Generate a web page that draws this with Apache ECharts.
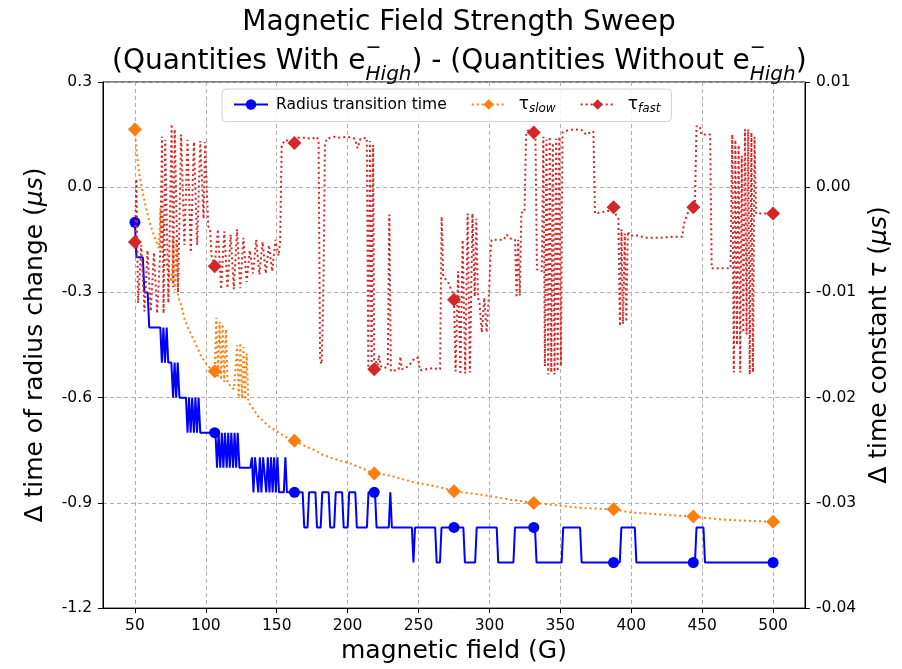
<!DOCTYPE html>
<html><head><meta charset="utf-8">
<script src="https://cdn.jsdelivr.net/npm/echarts@6/dist/echarts.min.js"></script>
<style>html,body{margin:0;padding:0;background:#fff}#c{width:902px;height:669px}</style>
</head><body><div id="c"></div>
<script>
const xTicks = [50,100,150,200,250,300,350,400,450,500];
const markerX = [50,106.25,162.5,218.75,275,331.25,387.5,443.75,500];
const radiusMarkerY = [-0.1,-0.7,-0.87,-0.87,-0.97,-0.97,-1.07,-1.07,-1.07];
const slowMarkerY = [0.0055,-0.0175,-0.0241,-0.0272,-0.0289,-0.0300,-0.0306,-0.0313,-0.0318];
const fastMarkerY = [-0.0052,-0.0075,0.0042,-0.0173,-0.0107,0.0052,-0.0019,-0.0019,-0.0025];

const radiusLine = [
[50,-0.1],[51.1,-0.2],[55.6,-0.2],[56.7,-0.3],[59,-0.3],[60.1,-0.4],[67.9,-0.4],
[69,-0.5],[70.1,-0.4],[71.2,-0.5],[72.4,-0.4],[73.5,-0.5],[75.7,-0.5],
[76.9,-0.6],[78,-0.5],[79.1,-0.6],[80.2,-0.5],[81.4,-0.6],[86,-0.6],
[87.1,-0.7],[88.2,-0.6],[89.3,-0.7],[90.4,-0.6],[91.6,-0.7],[92.7,-0.6],[93.8,-0.7],[94.9,-0.6],[96.1,-0.7],[106.8,-0.7],
[107.9,-0.8],[109,-0.7],[110.2,-0.8],[111.3,-0.7],[112.4,-0.8],[113.5,-0.7],[114.7,-0.8],[115.8,-0.7],[116.9,-0.8],[118,-0.7],[119.2,-0.8],[120.3,-0.7],[121.4,-0.8],[122.5,-0.7],[123.7,-0.8],[131.4,-0.8],
[132.5,-0.77],[133.6,-0.87],[134.7,-0.77],[135.9,-0.77],[137,-0.87],[138.1,-0.77],[139.2,-0.87],[140.4,-0.77],[141.5,-0.77],[142.6,-0.87],[143.7,-0.77],[144.9,-0.87],[146,-0.77],[147.1,-0.87],[148.2,-0.77],[149.4,-0.87],[150.5,-0.77],[151.6,-0.87],[155,-0.87],[156.1,-0.77],[157.2,-0.87],
[168.3,-0.87],[169.4,-0.97],[171.7,-0.97],[172.8,-0.87],[177.3,-0.87],[178.4,-0.97],[181,-0.97],[182.1,-0.87],[186.6,-0.87],[187.7,-0.97],[190.5,-0.97],[191.6,-0.87],[196.1,-0.87],[197.2,-0.97],[200,-0.97],[201.1,-0.87],[205.4,-0.87],[206.5,-0.97],[213.6,-0.97],[214.7,-0.87],[219.3,-0.87],[220.4,-0.97],[229,-0.97],[230.1,-0.87],[231.2,-0.97],[245.3,-0.97],[246.4,-1.07],[247.5,-0.97],[261.7,-0.97],[262.8,-1.07],[265.1,-1.07],[266.2,-0.97],[281.6,-0.97],[282.7,-1.07],[289.9,-1.07],[291,-0.97],[305.1,-0.97],[306.2,-1.07],[316.9,-1.07],[318,-0.97],[332.1,-0.97],[333.2,-1.07],[350.9,-1.07],[352,-0.97],[363.9,-0.97],[365,-1.07],[391.9,-1.07],[393,-0.97],[402.5,-0.97],[403.6,-1.07],[444.9,-1.07],[446,-0.97],[450.9,-0.97],[452,-1.07],[500,-1.07]
];

const tauSlowLine = [
[50,0.0055],[51.1,0.0035],[52.2,0.0022],[53.4,0.0010],[55.6,-0.0006],[57.9,-0.0020],[60.1,-0.0032],[62.4,-0.0042],[64.6,-0.0050],[66.9,-0.0058],[68,-0.0020],[69.1,-0.0062],[70.2,-0.0030],[71.4,-0.0068],[73.6,-0.0080],[75.9,-0.0090],[77,-0.0048],[78.1,-0.0098],[79.2,-0.0050],[80.4,-0.0104],[82.6,-0.0112],[85,-0.0125],[87.2,-0.0133],[90.4,-0.0142],[93.8,-0.0152],[96.1,-0.0159],[99.8,-0.0167],[103,-0.0172],[106.25,-0.0175],
[107.4,-0.0124],[108.5,-0.0180],[109.7,-0.0128],[110.8,-0.0183],[111.9,-0.0130],[113,-0.0185],[114.2,-0.0135],[115.3,-0.0186],[117.5,-0.0189],[119.8,-0.0192],[121,-0.0193],[122.1,-0.0150],[123.2,-0.0200],[124.3,-0.0148],[125.5,-0.0201],[126.6,-0.0152],[127.7,-0.0202],[128.8,-0.0158],[130,-0.0204],
[133,-0.0210],[137,-0.0218],[141,-0.0223],[144.3,-0.0227],[150,-0.0232],[156,-0.0237],[162.5,-0.0241],[170,-0.0246],[177,-0.0250],[182,-0.0254],[190,-0.0258],[200.6,-0.0262],[210,-0.0267],[218.75,-0.0272],[230,-0.0274],[240,-0.0278],[248.8,-0.0281],[265,-0.0285],[275,-0.0289],[287,-0.0291],[298,-0.0293],[315,-0.0297],[331.25,-0.0300],[352,-0.0303],[366,-0.0305],[387.5,-0.0306],[399,-0.0309],[420,-0.0311],[443.75,-0.0313],[464.5,-0.0316],[500,-0.0318]
];

const tauFastLine = [
[50,-0.0052],[51.1,0.0008],[52.2,-0.0110],[54.5,-0.0055],[56.7,-0.0118],[58.9,-0.0060],[61.2,-0.0118],[63.4,-0.0062],[65.7,-0.0120],[67.9,-0.0060],[69.1,0.0048],[70.2,-0.0120],[71.4,0.0045],[73.6,-0.0110],[75.9,0.0060],[77,-0.0095],[78.1,0.0055],[80.4,-0.0100],[82.6,0.0050],[84.9,-0.0055],[87.1,0.0045],[89.4,-0.0062],[91.6,0.0043],[93.9,-0.0055],[96.1,0.0044],[98.4,-0.0030],[99.5,0.0043],[100.6,0.0042],[101.7,-0.0037],[103,-0.0040],[104,-0.0065],[106.25,-0.0075],
[108.5,-0.0040],[110.8,-0.0097],[113,-0.0042],[115.3,-0.0096],[117.5,-0.0045],[119.8,-0.0097],[122,-0.0040],[124.3,-0.0096],[126.5,-0.0048],[128.8,-0.0090],[131,-0.0060],[133.3,-0.0082],[135.5,-0.0050],[137.8,-0.0083],[140,-0.0052],[142.3,-0.0082],[144.5,-0.0055],[146.8,-0.0080],[149,-0.0050],[151.3,-0.0065],[152.4,-0.0052],[153.5,0.0040],[156,0.0045],[162.5,0.0042],[165,0.0047],[170,0.0047],[175,0.0046],[178,0.0048],[179.5,0.0045],[180.6,-0.0165],[181.7,-0.0168],[182.9,-0.0100],[184,0.0040],[185.1,0.0046],[190,0.0048],[195,0.0047],[200,0.0048],[205,0.0046],[207,0.0037],[209,0.0046],[213.5,0.0047],
[214.6,-0.0172],[215.7,0.0044],[216.9,-0.0170],[218,0.0040],[218.75,-0.0173],[219.9,-0.0165],[221,-0.0172],[222.1,-0.0160],[223.3,-0.0170],[226,-0.0172],[228.3,-0.0170],[229.4,-0.0026],[230.5,-0.0175],[236,-0.0173],[237.2,-0.0161],[238.3,-0.0173],[243,-0.0170],[247.5,-0.0162],[249.8,-0.0162],[250.9,-0.0174],[260,-0.0172],[265.2,-0.0173],
[266.3,-0.0028],[267.4,-0.0085],[270.8,-0.0090],[273.9,-0.0100],[275,-0.0107],[276.1,-0.0175],[277.9,-0.0080],[279.5,-0.0178],[281.1,-0.0050],[282.9,-0.0177],[284.6,-0.0025],[286.2,-0.0176],[288,-0.0025],[289.6,-0.0104],[290.7,-0.0030],[291.9,-0.0105],[293,-0.0110],[294.6,-0.0138],[296.4,-0.0105],[298,-0.0138],[299.7,-0.0100],[300.9,-0.0060],[301.5,-0.0050],[310,-0.0050],[312,-0.0045],[316,-0.0050],[318,-0.0050],[319.1,-0.0105],[320.2,-0.0050],[321.4,-0.0103],[322.5,-0.0024],[324.7,-0.0024],[325.9,0.0052],[328,0.0055],[331.25,0.0052],[332.4,0.0050],[333.5,-0.0078],[336.9,-0.0080],
[338,0.0048],[339.1,-0.0170],[340.2,0.0045],[341.4,-0.0178],[342.5,0.0048],[343.6,-0.0176],[344.7,0.0042],[345.9,-0.0178],[347,0.0046],[348.1,-0.0175],[349.2,0.0048],[350.4,-0.0170],[351.5,0.0052],[355,0.0054],[360,0.0055],[366,0.0054],[368,0.0050],[371,0.0052],[373.3,0.0053],[374.4,-0.0025],[386,-0.0022],[387.5,-0.0019],
[388.6,-0.0025],[390.9,-0.0030],[392,-0.0132],[393.1,-0.0040],[394.2,-0.0130],[395.4,-0.0044],[396.5,-0.0128],[397.6,-0.0042],[398.8,-0.0046],[405,-0.0046],[410,-0.0048],[420,-0.0048],[430,-0.0047],[436,-0.0047],[437.1,-0.0035],[440.5,-0.0022],[443.75,-0.0019],[444.9,-0.0015],[446,0.0058],[448.2,0.0058],[449.4,0.0050],[455.6,0.0050],[456.7,-0.0077],[470,-0.0077],
[471.2,0.0050],[472.3,-0.0176],[473.4,0.0045],[474.5,-0.0150],[475.7,0.0040],[476.8,-0.0176],[477.9,0.0030],[479,-0.0138],[480.2,0.0055],[481.3,-0.0140],[482.4,0.0055],[483.5,-0.0178],[484.7,0.0052],[485.8,-0.0176],[486.9,0.0048],[488,-0.0025],[498.8,-0.0025],[500,-0.0025]
];

const BLUE = '#0000ff', ORANGE = '#ff7f0e', RED = '#d62728';
const FONT = 'DejaVu Sans';
const pair = (xs, ys) => xs.map((x, i) => [x, ys[i]]);

const chart = echarts.init(document.getElementById('c'), null, {renderer: 'canvas'});
chart.setOption({
  animation: false,
  backgroundColor: '#fff',
  textStyle: {fontFamily: FONT},
  title: [
    {text: 'Magnetic Field Strength Sweep', left: 454, textAlign: 'center', top: 4,
     textStyle: {fontFamily: FONT, fontSize: 28, fontWeight: 'normal', color: '#000'}},
    {text: '(Quantities With e{sup|−}{sub|High}) - (Quantities Without e{sup|−}{sub|High})',
     left: 107, top: 34,
     textStyle: {fontFamily: FONT, fontSize: 28, fontWeight: 'normal', color: '#000', lineHeight: 46,
       rich: {
         sup: {fontFamily: FONT, fontSize: 19, width: 0, align: 'left', verticalAlign: 'top', lineHeight: 30, color: '#000'},
         sub: {fontFamily: FONT, fontSize: 20, fontStyle: 'italic', align: 'left', verticalAlign: 'bottom', lineHeight: 26, color: '#000'}
       }}}
  ],
  legend: {
    data: ['Radius transition time', 'τ_slow', 'τ_fast'],
    left: 222, top: 89,
    itemWidth: 34, itemHeight: 13, itemGap: 24,
    padding: [7, 11, 7, 11],
    backgroundColor: 'rgba(255,255,255,0.8)',
    borderColor: '#d0d0d0', borderWidth: 1, borderRadius: 4,
    textStyle: {fontFamily: FONT, fontSize: 15.5, color: '#000',
      rich: {n: {fontFamily: FONT, fontSize: 15.5, color: '#000', padding: [0, 19, 0, 3]},
             t: {fontFamily: FONT, fontSize: 17, color: '#000', padding: [0, 0, 0, 8]},
             s: {fontFamily: FONT, fontSize: 12, fontStyle: 'italic', color: '#000', padding: [8, 0, 0, 0]}}},
    formatter: n => n === 'τ_slow' ? '{t|τ}{s|slow}' : (n === 'τ_fast' ? '{t|τ}{s|fast}' : '{n|' + n + '}')
  },
  grid: {left: 103, right: 97, top: 82, bottom: 60, show: true, borderColor: '#000', borderWidth: 1, containLabel: false},
  xAxis: {
    type: 'value', min: 27.5, max: 522.5,
    axisLine: {show: true, onZero: false, lineStyle: {color: '#000', width: 1}},
    axisTick: {show: true, customValues: xTicks, length: 5, lineStyle: {color: '#000'}},
    axisLabel: {customValues: xTicks, color: '#000', fontSize: 15.5, fontFamily: FONT, margin: 10},
    splitLine: {show: true, lineStyle: {color: '#b0b0b0', type: [4, 3], width: 1}},
    name: 'magnetic field (G)', nameLocation: 'middle', nameGap: 30,
    nameTextStyle: {fontFamily: FONT, fontSize: 25, color: '#000'}
  },
  yAxis: [
    {type: 'value', min: -1.2, max: 0.3, interval: 0.3, position: 'left',
     axisLine: {show: true, onZero: false, lineStyle: {color: '#000'}},
     axisTick: {show: true, length: 5, lineStyle: {color: '#000'}},
     axisLabel: {color: '#000', fontSize: 15.5, fontFamily: FONT, margin: 11, formatter: v => v.toFixed(1)},
     splitLine: {show: true, lineStyle: {color: '#b0b0b0', type: [4, 3], width: 1}},
     name: 'Δ time of radius change ({i|μs})', nameLocation: 'middle', nameGap: 55, nameRotate: 90,
     nameTextStyle: {fontFamily: FONT, fontSize: 25, color: '#000',
       rich: {i: {fontFamily: FONT, fontSize: 25, fontStyle: 'italic', color: '#000'}}}},
    {type: 'value', min: -0.04, max: 0.01, interval: 0.01, position: 'right',
     axisLine: {show: true, onZero: false, lineStyle: {color: '#000'}},
     axisTick: {show: true, length: 5, lineStyle: {color: '#000'}},
     axisLabel: {color: '#000', fontSize: 15.5, fontFamily: FONT, margin: 11, formatter: v => v.toFixed(2)},
     splitLine: {show: false},
     name: 'Δ time constant {i|τ} ({i|μs})', nameLocation: 'middle', nameGap: 60, nameRotate: 90,
     nameTextStyle: {fontFamily: FONT, fontSize: 25, color: '#000',
       rich: {i: {fontFamily: FONT, fontSize: 25, fontStyle: 'italic', color: '#000'}}}}
  ],
  series: [
    {name: 'Radius transition time', type: 'line', yAxisIndex: 0, data: radiusLine,
     symbol: 'circle', showSymbol: false, z: 2,
     lineStyle: {color: BLUE, width: 2}, itemStyle: {color: BLUE}},
    {name: 'rm', type: 'scatter', yAxisIndex: 0, data: pair(markerX, radiusMarkerY),
     symbol: 'circle', symbolSize: 11, z: 3, itemStyle: {color: BLUE, opacity: 1}},
    {name: 'τ_slow', type: 'line', yAxisIndex: 1, data: tauSlowLine,
     symbol: 'diamond', showSymbol: false, z: 4,
     lineStyle: {color: ORANGE, width: 2, type: [2, 3]}, itemStyle: {color: ORANGE}},
    {name: 'sm', type: 'scatter', yAxisIndex: 1, data: pair(markerX, slowMarkerY),
     symbol: 'diamond', symbolSize: 14, z: 5, itemStyle: {color: ORANGE, opacity: 1}},
    {name: 'τ_fast', type: 'line', yAxisIndex: 1, data: tauFastLine,
     symbol: 'diamond', showSymbol: false, z: 6,
     lineStyle: {color: RED, width: 2, type: [2, 3]}, itemStyle: {color: RED}},
    {name: 'fm', type: 'scatter', yAxisIndex: 1, data: pair(markerX, fastMarkerY),
     symbol: 'diamond', symbolSize: 14, z: 7, itemStyle: {color: RED, opacity: 1}}
  ]
});
</script></body></html>
